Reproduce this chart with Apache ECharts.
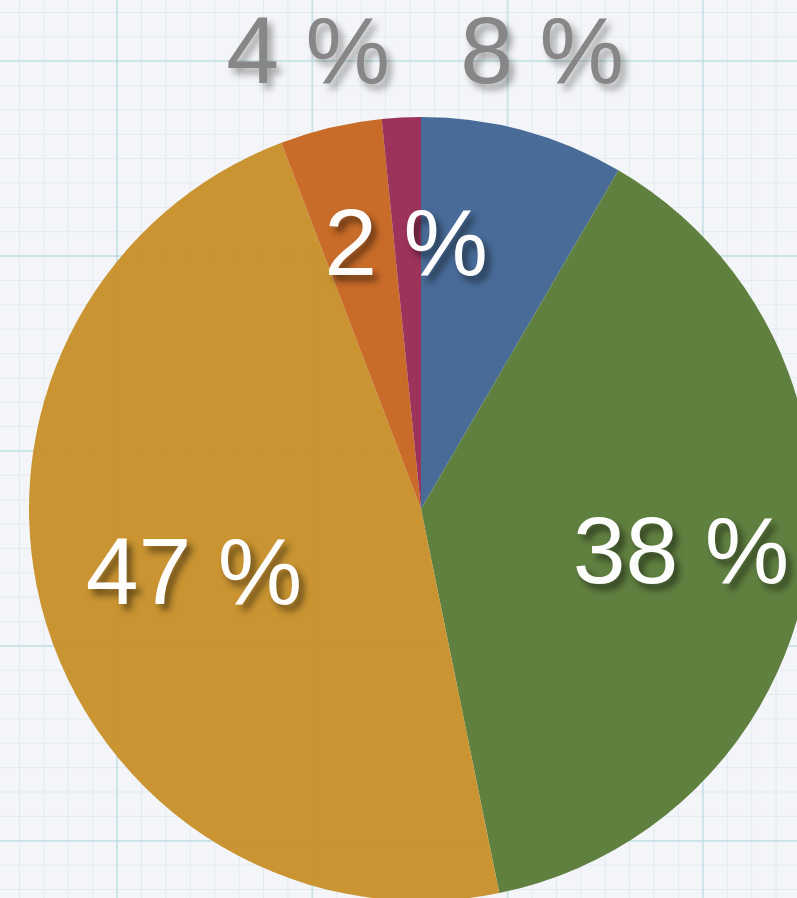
<!DOCTYPE html>
<html>
<head>
<meta charset="utf-8">
<script src="https://cdn.jsdelivr.net/npm/echarts@6/dist/echarts.min.js"></script>
<style>
  html, body { margin: 0; padding: 0; }
  #chart {
    width: 797px; height: 898px;
    background-color: #f4f5f8;
    background-image:
      linear-gradient(to right, rgba(185,220,225,0.6) 2px, transparent 2px),
      linear-gradient(to bottom, rgba(185,220,225,0.6) 2px, transparent 2px),
      linear-gradient(to right, rgba(212,226,233,0.55) 1px, transparent 1px),
      linear-gradient(to bottom, rgba(212,226,233,0.55) 1px, transparent 1px);
    background-size: 195.3px 195px, 195.3px 195px, 24.41px 24.37px, 24.41px 24.37px;
    background-position: 116px 0, 0 60px, 19px 0, 0 12px;
  }
</style>
</head>
<body>
<div id="chart"></div>
<script>
// ---- data ----
const categories = ['Blue', 'Green', 'Yellow', 'Orange', 'Crimson'];
const values = [8.4, 38.4, 47.4, 4.2, 1.6];
const colors = ['#456995', '#5d7e3d', '#c8922e', '#c86a26', '#993058'];

// label placement (layout only)
const labelPos = [[542, 57], [681, 557], [194, 578], [308, 57], [406, 249]];
const labelColor = ['#858585', '#ffffff', '#ffffff', '#858585', '#ffffff'];
const shadowAlpha = [0.35, 0.5, 0.5, 0.35, 0.5];

const chart = echarts.init(document.getElementById('chart'), null, { renderer: 'canvas' });

const data = categories.map((c, i) => ({
  name: c,
  value: values[i],
  itemStyle: { color: colors[i] },
  label: { color: labelColor[i], textShadowColor: 'rgba(0,0,0,' + shadowAlpha[i] + ')' }
}));

chart.setOption({
  backgroundColor: 'transparent',
  animation: false,
  series: [{
    type: 'pie',
    center: [421, 509],
    radius: 392,
    startAngle: 90,
    clockwise: true,
    data: data,
    itemStyle: { opacity: 0.985, borderWidth: 0 },
    emphasis: { disabled: true },
    labelLine: { show: false },
    label: {
      show: true,
      position: 'inside',
      formatter: p => Math.round(p.value) + ' %',
      fontFamily: 'Liberation Sans, Arial, sans-serif',
      fontWeight: 'normal',
      fontSize: 95,
      textBorderWidth: 0,
      textBorderColor: 'transparent',
      textShadowBlur: 7,
      textShadowOffsetX: 5,
      textShadowOffsetY: 6
    },
    labelLayout: function (params) {
      const p = labelPos[params.dataIndex];
      return { x: p[0], y: p[1], align: 'center', verticalAlign: 'middle' };
    }
  }]
});
</script>
</body>
</html>
